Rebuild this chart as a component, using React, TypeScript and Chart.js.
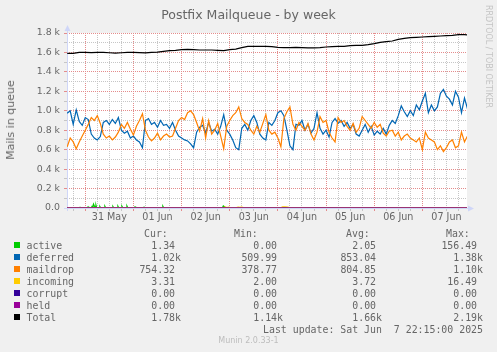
import React, { useEffect, useRef } from 'react';
import { Chart, registerables } from 'chart.js';

Chart.register(...registerables);

// ---- text ----
const chartTitle = 'Postfix Mailqueue - by week';
const yAxisTitle = 'Mails in queue';
const sideText = 'RRDTOOL / TOBI OETIKER';
const footerText = 'Munin 2.0.33-1';
const lastUpdate = 'Last update: Sat Jun  7 22:15:00 2025';

// ---- x axis (hours relative to 31 May 00:00) ----
const dayLabels = ['31 May', '01 Jun', '02 Jun', '03 Jun', '04 Jun', '05 Jun', '06 Jun', '07 Jun'];
const labelHours = [12, 36, 60, 84, 108, 132, 156, 180];
const xMinHour = -9.1;
const xMaxHour = 190.25;

// ---- sampled series (every 1.5 h from -9 h) ----
const sampleStartHour = -9;
const sampleStepHours = 1.5;
const deferred = [
  975, 1000, 860, 1010, 890, 850, 930, 910, 760, 720,
  700, 735, 880, 900, 860, 910, 870, 930, 800, 770,
  790, 720, 740, 700, 680, 620, 900, 920, 860, 880,
  830, 900, 850, 860, 820, 880, 800, 740, 720, 700,
  690, 660, 620, 780, 830, 850, 770, 880, 790, 810,
  760, 840, 960, 800, 760, 700, 620, 600, 820, 860,
  800, 900, 950, 880, 760, 720, 700, 880, 850, 900,
  980, 1000, 950, 800, 640, 600, 860, 850, 900, 800,
  860, 770, 820, 980, 820, 760, 800, 730, 880, 920,
  870, 900, 840, 880, 820, 860, 760, 740, 800, 860,
  780, 840, 750, 790, 760, 820, 760, 850, 900, 870,
  950, 1050, 990, 940, 1000, 950, 1060, 1010, 1100, 1180,
  980, 1060, 1000, 1040, 1180, 1220, 1150, 1120, 1060, 1200,
  1140, 980, 1130, 1020,
];
const maildrop = [
  630, 720, 680, 610, 680, 740, 800, 860, 930, 900,
  950, 870, 760, 720, 740, 700, 730, 780, 860, 820,
  880, 810, 750, 840, 900, 970, 800, 730, 690, 720,
  770, 700, 740, 760, 730, 740, 820, 900, 930, 910,
  980, 1000, 960, 880, 790, 920, 720, 900, 760, 800,
  870, 740, 610, 840, 900, 950, 980, 1040, 920, 880,
  860, 800, 760, 840, 780, 870, 960, 800, 760, 780,
  720, 630, 920, 990, 1040, 860, 800, 880, 840, 800,
  870, 760, 700, 780, 940, 880, 900, 780, 720, 680,
  930, 880, 900, 840, 800, 870, 780, 820, 940, 900,
  860, 820, 880, 830, 860, 770, 740, 790, 800, 740,
  780, 700, 740, 760, 720, 700, 680, 720, 600, 780,
  720, 700, 680, 600, 640, 580, 620, 680, 700, 620,
  640, 780, 680, 740,
];

// ---- total (every 3 h from -9 h) ----
const totalStartHour = -9;
const totalStepHours = 3;
const total = [
  1591, 1590, 1600, 1601, 1598, 1601, 1600, 1597, 1592, 1597,
  1600, 1601, 1598, 1595, 1601, 1604, 1611, 1618, 1622, 1629,
  1632, 1629, 1625, 1625, 1625, 1622, 1618, 1629, 1635, 1649,
  1663, 1663, 1663, 1663, 1659, 1653, 1649, 1649, 1653, 1649,
  1646, 1646, 1649, 1656, 1659, 1663, 1663, 1670, 1673, 1673,
  1680, 1690, 1704, 1711, 1718, 1735, 1745, 1752, 1755, 1759,
  1762, 1766, 1769, 1773, 1776, 1783, 1783, 1778,
];

// ---- sparse series ----
const activeHours = [
  -9.1, -3.0, -2.6, -2.2, 1.0, 1.4, 1.8, 3.0, 3.4, 3.8, 4.1, 4.5, 5.0, 5.35, 5.7,
  6.9, 7.3, 7.7, 9.4, 9.8, 10.2, 13.4, 13.8, 14.2, 15.9, 16.3, 16.7, 17.9, 18.3, 18.7,
  20.4, 20.8, 21.2, 24.4, 24.8, 25.2, 28.9, 29.3, 29.7, 38.3, 38.7, 39.1,
  68.3, 68.8, 69.3, 69.8, 190.25,
];
const activeValues = [
  0, 0, 6, 0, 0, 12, 0, 0, 18, 14, 38, 20, 10, 26, 0,
  0, 14, 0, 0, 16, 0, 0, 14, 0, 0, 16, 0, 0, 16, 0,
  0, 18, 0, 0, 12, 0, 0, 8, 0, 0, 16, 0,
  0, 20, 12, 0, 0,
];
const incomingHours = [-9.1, 69.0, 69.8, 70.6, 71.4, 72.2, 75.4, 76.2, 77.0, 78.0, 78.8, 97.6, 98.4, 99.6, 100.8, 101.8, 190.25];
const incomingValues = [3, 3, 10, 5, 9, 3, 3, 8, 5, 8, 3, 3, 11, 12, 10, 3, 3];
const corruptHours = [-9.1, 190.25];
const corruptValues = [0, 0];
const heldHours = [-9.1, 190.25];
const heldValues = [0, 0];

// ---- legend ----
const seriesNames = ['active', 'deferred', 'maildrop', 'incoming', 'corrupt', 'held', 'Total'];
const seriesColors = ['#00cc00', '#0066b3', '#ff8000', '#ffcc00', '#330099', '#990099', '#000000'];
const curValues = ['1.34', '1.02k', '754.32', '3.31', '0.00', '0.00', '1.78k'];
const minValues = ['0.00', '509.99', '378.77', '2.00', '0.00', '0.00', '1.14k'];
const avgValues = ['2.05', '853.04', '804.85', '3.72', '0.00', '0.00', '1.66k'];
const maxValues = ['156.49', '1.38k', '1.10k', '16.49', '0.00', '0.00', '2.19k'];

const FONT = '#666666';
const MAJOR = '#e48c8c';
const MINOR = '#c6c6c6';
const AXIS = '#cfd6f8';

const sampled = (vals: number[], start: number, step: number) =>
  vals.map((v, i) => ({ x: start + i * step, y: v }));
const paired = (xs: number[], ys: number[]) => xs.map((x, i) => ({ x, y: ys[i] }));
const pad = (s: string) => (/[kM]$/.test(s) ? s : s + ' ');

export default function App() {
  const ref = useRef<HTMLCanvasElement>(null);

  useEffect(() => {
    const canvas = ref.current;
    if (!canvas) return;
    document.body.style.margin = '0';

    const gridHours: number[] = [];
    for (let h = -6; h <= 186; h += 6) gridHours.push(h);

    const bgPlugin = {
      id: 'canvasBg',
      beforeDraw(chart: any) {
        const { ctx, chartArea: a } = chart;
        ctx.save();
        ctx.fillStyle = '#ffffff';
        ctx.fillRect(a.left, a.top, a.right - a.left, a.bottom - a.top);
        ctx.restore();
      },
    };
    const axisPlugin = {
      id: 'axisArrows',
      beforeDatasetsDraw(chart: any) {
        const { ctx, chartArea: a } = chart;
        ctx.save();
        ctx.strokeStyle = AXIS;
        ctx.fillStyle = AXIS;
        ctx.lineWidth = 1;
        ctx.beginPath();
        ctx.moveTo(a.left + 0.5, a.bottom + 3);
        ctx.lineTo(a.left + 0.5, a.top - 4);
        ctx.moveTo(a.left - 3, a.bottom + 0.5);
        ctx.lineTo(a.right + 3, a.bottom + 0.5);
        ctx.stroke();
        ctx.beginPath();
        ctx.moveTo(a.left + 0.5, a.top - 8);
        ctx.lineTo(a.left - 2.5, a.top - 2);
        ctx.lineTo(a.left + 3.5, a.top - 2);
        ctx.closePath();
        ctx.fill();
        ctx.beginPath();
        ctx.moveTo(a.right + 7, a.bottom + 0.5);
        ctx.lineTo(a.right + 1, a.bottom - 2.5);
        ctx.lineTo(a.right + 1, a.bottom + 3.5);
        ctx.closePath();
        ctx.fill();
        ctx.restore();
      },
    };

    const line = (label: string, data: any[], color: string, order: number, width = 1) => ({
      label,
      data,
      borderColor: color,
      backgroundColor: color,
      borderWidth: width,
      pointRadius: 0,
      tension: 0,
      fill: false,
      order,
    });

    const chart = new Chart(canvas, {
      type: 'line',
      data: {
        datasets: [
          line(seriesNames[0], paired(activeHours, activeValues), seriesColors[0], 6, 1.3),
          line(seriesNames[1], sampled(deferred, sampleStartHour, sampleStepHours), seriesColors[1], 5, 1.2),
          line(seriesNames[2], sampled(maildrop, sampleStartHour, sampleStepHours), seriesColors[2], 4, 1.2),
          line(seriesNames[3], paired(incomingHours, incomingValues), seriesColors[3], 3, 1.3),
          line(seriesNames[4], paired(corruptHours, corruptValues), seriesColors[4], 2),
          line(seriesNames[5], paired(heldHours, heldValues), seriesColors[5], 1),
          line(seriesNames[6], sampled(total, totalStartHour, totalStepHours), seriesColors[6], 0, 1.2),
        ] as any,
      },
      options: {
        responsive: false,
        animation: false,
        events: [],
        layout: { padding: { left: 0, top: 33, right: 30, bottom: 124 } },
        plugins: { legend: { display: false }, title: { display: false }, tooltip: { enabled: false } },
        scales: {
          x: {
            type: 'linear',
            min: xMinHour,
            max: xMaxHour,
            afterBuildTicks: (axis: any) => {
              axis.ticks = gridHours.map((v) => ({ value: v }));
            },
            afterFit: (s: any) => {
              s.height = 20;
            },
            ticks: {
              autoSkip: false,
              maxRotation: 0,
              minRotation: 0,
              padding: 1,
              color: FONT,
              font: { family: 'DejaVu Sans', size: 9.6 },
              callback: (v: any) => {
                const idx = labelHours.indexOf(Number(v));
                return idx >= 0 ? dayLabels[idx] : '';
              },
            },
            grid: {
              color: (c: any) => (c.tick && c.tick.value % 24 === 0 ? MAJOR : MINOR),
              tickColor: (c: any) => (c.tick && c.tick.value % 24 === 0 ? MAJOR : MINOR),
              lineWidth: 1,
              drawTicks: true,
              tickLength: 3,
            },
            border: { display: false, dash: [1, 1] },
          },
          y: {
            type: 'linear',
            min: 0,
            max: 1800,
            afterFit: (s: any) => {
              s.width = 67;
            },
            ticks: {
              stepSize: 100,
              autoSkip: false,
              padding: 4,
              color: FONT,
              font: { family: 'DejaVu Sans', size: 9.4 },
              callback: (v: any) => {
                const n = Number(v);
                if (n % 200 !== 0) return '';
                return n === 0 ? '0.0' : (n / 1000).toFixed(1) + ' k';
              },
            },
            grid: {
              color: (c: any) => (c.tick && c.tick.value % 200 === 0 ? MAJOR : MINOR),
              tickColor: (c: any) => (c.tick && c.tick.value % 200 === 0 ? MAJOR : MINOR),
              lineWidth: 1,
              drawTicks: true,
              tickLength: 3,
            },
            border: { display: false, dash: [1, 1] },
          },
        },
      } as any,
      plugins: [bgPlugin, axisPlugin],
    });
    return () => chart.destroy();
  }, []);

  const mono: React.CSSProperties = {
    position: 'absolute',
    fontFamily: '"DejaVu Sans Mono", monospace',
    fontSize: '9.9px',
    lineHeight: '12px',
    color: FONT,
    whiteSpace: 'pre',
  };
  const rightCol = (right: number, top: number, text: string, key: string) => (
    <div key={key} style={{ ...mono, top, left: right - 300, width: 300, textAlign: 'right' }}>
      {text}
    </div>
  );

  return (
    <div
      style={{
        position: 'absolute',
        left: 0,
        top: 0,
        width: 497,
        height: 352,
        background: '#f0f0f0',
        overflow: 'hidden',
      }}
    >
      <canvas ref={ref} width={497} height={352} style={{ position: 'absolute', left: 0, top: 0 }} />
      <div
        style={{
          position: 'absolute',
          left: 0,
          top: 6.5,
          width: 497,
          textAlign: 'center',
          fontFamily: '"DejaVu Sans", sans-serif',
          fontSize: '12.5px',
          lineHeight: '15px',
          color: FONT,
          whiteSpace: 'pre',
        }}
      >
        {chartTitle}
      </div>
      <div
        style={{
          position: 'absolute',
          left: 11,
          top: 120,
          transform: 'translate(-50%, -50%) rotate(-90deg)',
          fontFamily: '"DejaVu Sans", sans-serif',
          fontSize: '11px',
          lineHeight: '12px',
          color: FONT,
          whiteSpace: 'nowrap',
        }}
      >
        {yAxisTitle}
      </div>
      <div
        style={{
          position: 'absolute',
          left: 483,
          top: 5,
          writingMode: 'vertical-rl',
          fontFamily: '"DejaVu Sans", sans-serif',
          fontSize: '8px',
          lineHeight: '10px',
          color: '#c4c4c4',
          whiteSpace: 'nowrap',
        }}
      >
        {sideText}
      </div>
      {/* legend header */}
      <div style={{ ...mono, top: 228, left: 144 }}>Cur:</div>
      <div style={{ ...mono, top: 228, left: 234 }}>Min:</div>
      <div style={{ ...mono, top: 228, left: 346 }}>Avg:</div>
      <div style={{ ...mono, top: 228, left: 446 }}>Max:</div>
      {seriesNames.map((name, k) => {
        const top = 240 + 12 * k;
        return (
          <React.Fragment key={name}>
            <div
              style={{
                position: 'absolute',
                left: 14,
                top: top + 2,
                width: 6,
                height: 6,
                background: seriesColors[k],
              }}
            />
            <div style={{ ...mono, top, left: 26.5 }}>{name}</div>
            {rightCol(181, top, pad(curValues[k]), name + 'c')}
            {rightCol(283, top, pad(minValues[k]), name + 'n')}
            {rightCol(382, top, pad(avgValues[k]), name + 'a')}
            {rightCol(483, top, pad(maxValues[k]), name + 'x')}
          </React.Fragment>
        );
      })}
      {rightCol(483, 324, lastUpdate, 'lu')}
      <div
        style={{
          position: 'absolute',
          left: 0,
          top: 336,
          width: 497,
          textAlign: 'center',
          fontFamily: '"DejaVu Sans", sans-serif',
          fontSize: '8px',
          lineHeight: '10px',
          color: '#bdbdbd',
          whiteSpace: 'pre',
        }}
      >
        {footerText}
      </div>
    </div>
  );
}
